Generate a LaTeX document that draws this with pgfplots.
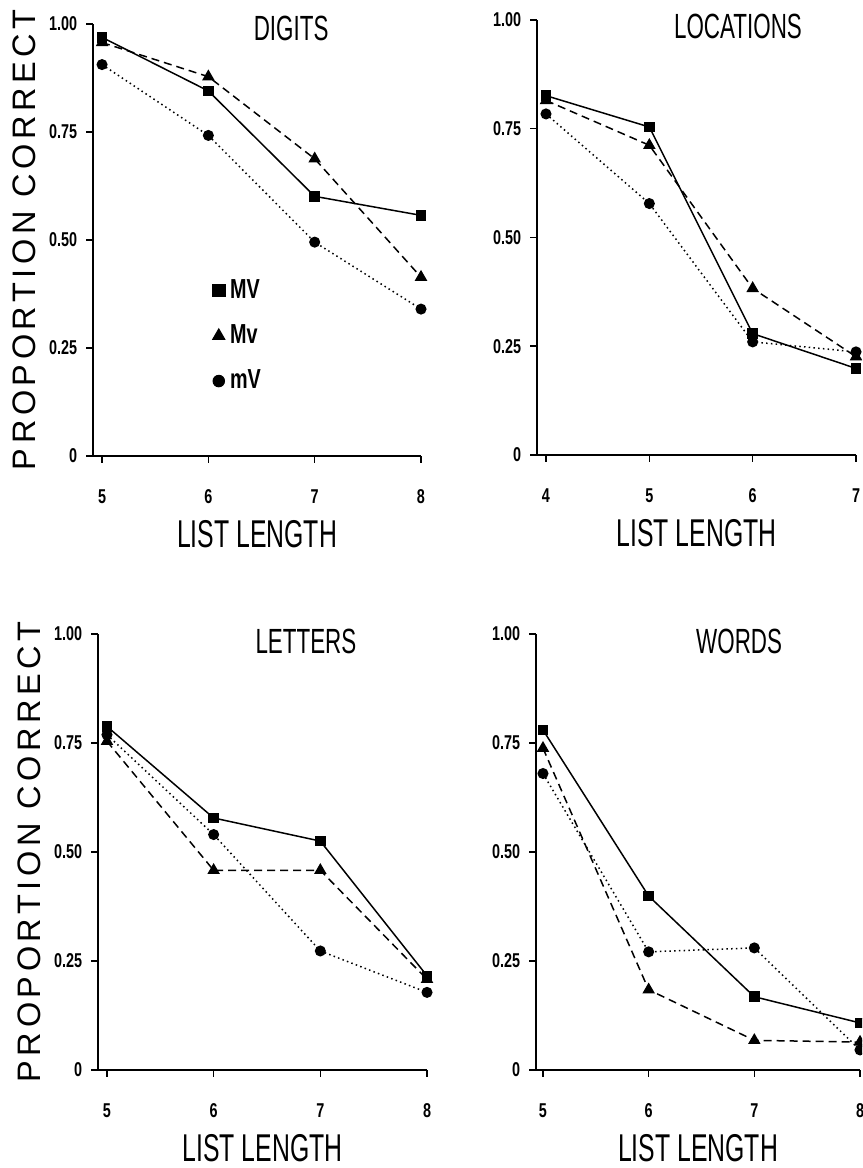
\documentclass[border=0pt]{standalone}
\usepackage{fontspec}
\usepackage{pgfplots}
\usepackage{pgfplotstable}
\pgfplotsset{compat=1.18}
\setmainfont{Liberation Sans}
\newfontfamily\tickfont[FakeStretch=0.72]{Liberation Sans}
\newfontfamily\titlefont[FakeStretch=0.64]{Liberation Sans}
\newfontfamily\ylabfont[LetterSpace=14]{Liberation Sans}

% proportion correct by list length
\pgfplotstableread{
n MV Mv mV
5 0.969 0.957 0.906
6 0.845 0.878 0.742
7 0.601 0.688 0.495
8 0.557 0.414 0.340
}\digits
\pgfplotstableread{
n MV Mv mV
4 0.826 0.815 0.784
5 0.754 0.712 0.578
6 0.279 0.383 0.260
7 0.199 0.226 0.237
}\locations
\pgfplotstableread{
n MV Mv mV
5 0.788 0.754 0.769
6 0.578 0.458 0.540
7 0.525 0.458 0.273
8 0.216 0.208 0.178
}\letters
\pgfplotstableread{
n MV Mv mV
5 0.780 0.738 0.680
6 0.399 0.184 0.271
7 0.168 0.068 0.280
8 0.108 0.064 0.046
}\words

\pgfplotsset{
  panel/.style={
    scale only axis, anchor=south west,
    axis lines*=left, axis line style={-, line width=0.8pt},
    ymin=0, ymax=1,
    ytick={0,0.25,0.5,0.75,1}, yticklabels={0,0.25,0.50,0.75,1.00},
    tick align=outside, major tick length=2.8pt,
    every tick/.style={black, line width=0.6pt},
    /pgf/number format/assume math mode=true,
    ticklabel style={font=\tickfont\bfseries\fontsize{8}{9}\selectfont},
    xticklabel style={yshift=-7pt},
    every axis title shift=0pt,
    title style={font=\titlefont\fontsize{14}{16}\selectfont, anchor=center},
    xlabel={LIST LENGTH},
    xlabel style={font=\titlefont\fontsize{15.5}{17}\selectfont, at={(0.5,-0.18)}, anchor=center},
    clip=false,
  },
  sMV/.style={black, line width=0.6pt, solid, mark=square*, mark size=1.8pt, mark options={solid}},
  sMv/.style={black, line width=0.6pt, dash pattern=on 3.2pt off 2pt, mark=triangle*, mark size=2.3pt, mark options={solid}},
  smV/.style={black, line width=0.6pt, dash pattern=on 0.6pt off 1.3pt, mark=*, mark size=1.9pt, mark options={solid}},
  ylab/.style={ylabel={PROPORTION CORRECT},
    ylabel style={font=\ylabfont\fontsize{13}{15}\selectfont, at={(-0.21,0.5)}, anchor=center}},
}

\begin{document}
\begin{tikzpicture}
\path[use as bounding box] (0,0) rectangle (344.8pt,467.2pt);
\clip (0,0) rectangle (344.8pt,467.2pt);

\begin{axis}[panel, ylab, at={(37.2pt,284.8pt)}, width=131.2pt, height=172.8pt,
  xmin=4.915, xmax=8, xtick={5,6,7,8},
  title={DIGITS}, title style={at={(0.604,0.99)}},
  legend style={at={(0.34,0.278)}, anchor=west, draw=none, fill=none,
    font=\tickfont\bfseries\fontsize{11}{12}\selectfont, row sep=5pt},
  legend cell align=left]
\addplot[sMV, forget plot] table[x=n, y=MV] {\digits};
\addplot[sMv, forget plot] table[x=n, y=Mv] {\digits};
\addplot[smV, forget plot] table[x=n, y=mV] {\digits};
\addlegendimage{black, only marks, mark=square*, mark size=2.5pt}
\addlegendentry{MV}
\addlegendimage{black, only marks, mark=triangle*, mark size=2.8pt}
\addlegendentry{Mv}
\addlegendimage{black, only marks, mark=*, mark size=2.3pt}
\addlegendentry{mV}
\end{axis}

\begin{axis}[panel, at={(214.8pt,285.2pt)}, width=127.6pt, height=174pt,
  xmin=3.913, xmax=7, xtick={4,5,6,7},
  title={LOCATIONS}, title style={at={(0.63,0.985)}}]
\addplot[sMV] table[x=n, y=MV] {\locations};
\addplot[sMv] table[x=n, y=Mv] {\locations};
\addplot[smV] table[x=n, y=mV] {\locations};
\end{axis}

\begin{axis}[panel, ylab, at={(39.2pt,39.2pt)}, width=131.6pt, height=174.4pt,
  xmin=4.916, xmax=8, xtick={5,6,7,8},
  title={LETTERS}, title style={at={(0.632,0.982)}}]
\addplot[sMV] table[x=n, y=MV] {\letters};
\addplot[sMv] table[x=n, y=Mv] {\letters};
\addplot[smV] table[x=n, y=mV] {\letters};
\end{axis}

\begin{axis}[panel, at={(214.4pt,39.2pt)}, width=129.6pt, height=174.4pt,
  xmin=4.934, xmax=8, xtick={5,6,7,8},
  title={WORDS}, title style={at={(0.627,0.984)}}]
\addplot[sMV] table[x=n, y=MV] {\words};
\addplot[sMv] table[x=n, y=Mv] {\words};
\addplot[smV] table[x=n, y=mV] {\words};
\end{axis}
\end{tikzpicture}
\end{document}
